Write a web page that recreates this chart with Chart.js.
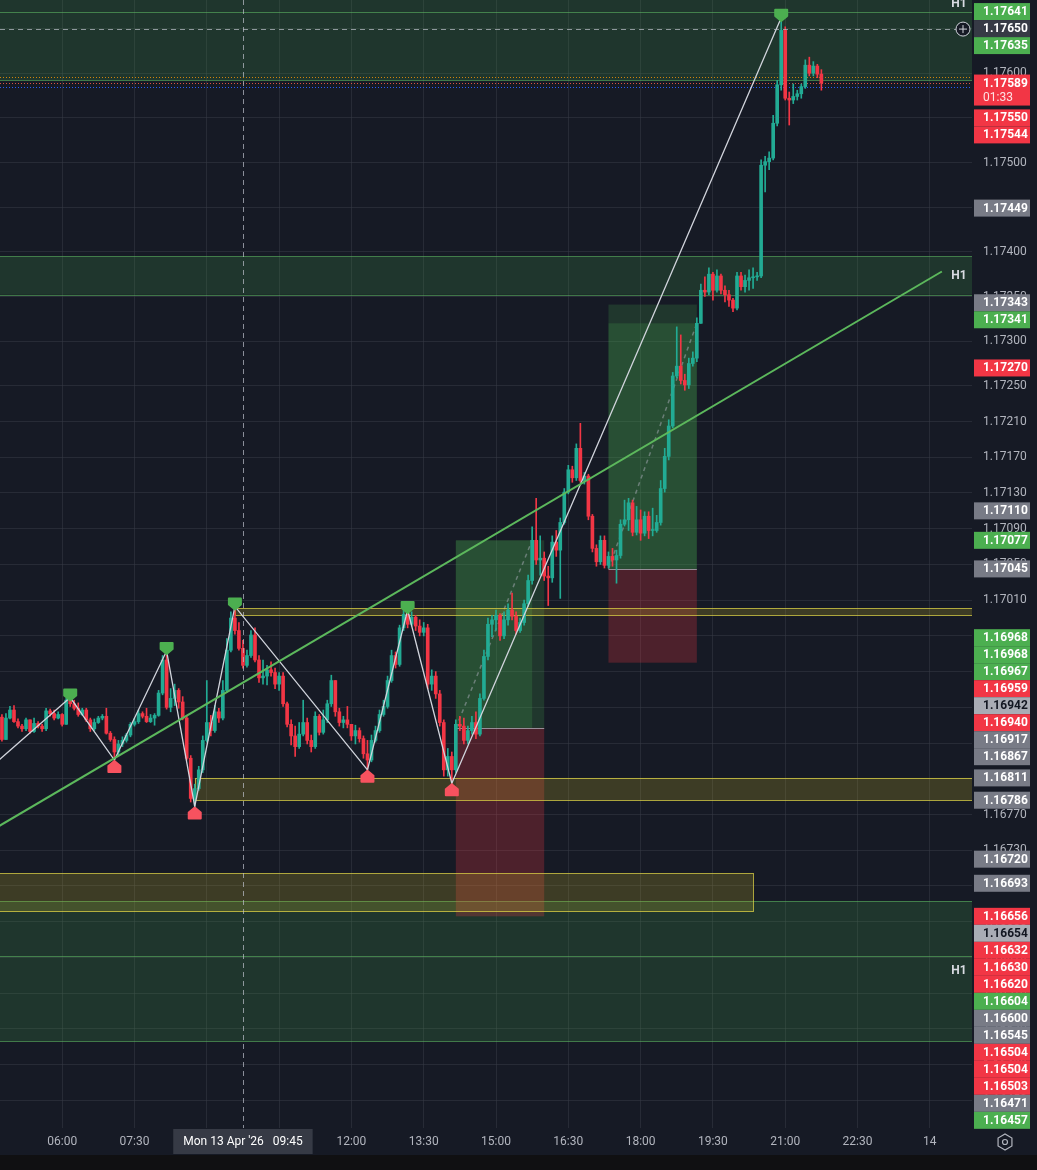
<!DOCTYPE html>
<html>
<head>
<meta charset="utf-8">
<script src="https://cdn.jsdelivr.net/npm/chart.js@4.4.1/dist/chart.umd.min.js"></script>
<style>
  html, body { margin: 0; padding: 0; background: #101012; }
  #wrap { width: 1037px; height: 1155px; }
</style>
</head>
<body>
<div id="wrap"><canvas id="chart" width="1037" height="1155"></canvas></div>
<script>
// EURUSD 5m, Mon 13 Apr '26, times are minutes after midnight
const FIRST_CANDLE = 285;   // 04:45
const CANDLE_MIN = 5;
const firstOpen = 1.16879;

const closes = [
  1.16854, 1.16878, 1.16887, 1.16874, 1.16869, 1.16866, 1.16876, 1.16863, 1.16872, 1.16869,
  1.16866, 1.16886, 1.16883, 1.16878, 1.16882, 1.16871, 1.16898, 1.16894, 1.16889, 1.16882,
  1.16887, 1.16876, 1.16866, 1.16873, 1.16878, 1.16880, 1.16861, 1.16854, 1.16840, 1.16849,
  1.16853, 1.16859, 1.16871, 1.16874, 1.16883, 1.16880, 1.16874, 1.16878, 1.16881, 1.16906,
  1.16943, 1.16890, 1.16900, 1.16909, 1.16896, 1.16878, 1.16833, 1.16788, 1.16799, 1.16820,
  1.16853, 1.16873, 1.16864, 1.16885, 1.16878, 1.16909, 1.16954, 1.16990, 1.16976, 1.16956,
  1.16937, 1.16948, 1.16971, 1.16943, 1.16923, 1.16925, 1.16932, 1.16929, 1.16916, 1.16925,
  1.16894, 1.16871, 1.16858, 1.16846, 1.16860, 1.16873, 1.16853, 1.16846, 1.16880, 1.16862,
  1.16876, 1.16894, 1.16920, 1.16885, 1.16873, 1.16876, 1.16871, 1.16858, 1.16864, 1.16855,
  1.16838, 1.16831, 1.16853, 1.16864, 1.16882, 1.16891, 1.16920, 1.16948, 1.16938, 1.16979,
  1.16994, 1.16983, 1.16991, 1.16981, 1.16974, 1.16979, 1.16916, 1.16925, 1.16905, 1.16873,
  1.16820, 1.16835, 1.16820, 1.16871, 1.16869, 1.16853, 1.16864, 1.16873, 1.16860, 1.16900,
  1.16947, 1.16983, 1.16988, 1.16993, 1.16970, 1.16988, 1.16999, 1.16992, 1.16976, 1.16985,
  1.17006, 1.17032, 1.17077, 1.17055, 1.17057, 1.17037, 1.17035, 1.17075, 1.17066, 1.17097,
  1.17131, 1.17156, 1.17147, 1.17180, 1.17144, 1.17149, 1.17104, 1.17068, 1.17053, 1.17077,
  1.17049, 1.17059, 1.17055, 1.17060, 1.17095, 1.17100, 1.17119, 1.17086, 1.17100, 1.17085,
  1.17104, 1.17088, 1.17088, 1.17097, 1.17135, 1.17171, 1.17205, 1.17261, 1.17272, 1.17256,
  1.17251, 1.17275, 1.17281, 1.17320, 1.17357, 1.17355, 1.17375, 1.17357, 1.17373, 1.17357,
  1.17352, 1.17346, 1.17337, 1.17373, 1.17361, 1.17368, 1.17371, 1.17372, 1.17373, 1.17497,
  1.17501, 1.17505, 1.17544, 1.17587, 1.17648, 1.17572, 1.17570, 1.17574, 1.17577, 1.17585,
  1.17609, 1.17600, 1.17608, 1.17599, 1.17589
];
const highs = [
  1.16882, 1.16883, 1.16891, 1.16892, 1.16877, 1.16871, 1.16878, 1.16876, 1.16878, 1.16874,
  1.16871, 1.16889, 1.16888, 1.16887, 1.16885, 1.16883, 1.16900, 1.16901, 1.16898, 1.16895,
  1.16889, 1.16889, 1.16878, 1.16877, 1.16880, 1.16882, 1.16889, 1.16863, 1.16857, 1.16853,
  1.16857, 1.16861, 1.16873, 1.16878, 1.16887, 1.16885, 1.16889, 1.16882, 1.16883, 1.16909,
  1.16948, 1.16953, 1.16911, 1.16916, 1.16911, 1.16902, 1.16880, 1.16836, 1.16804, 1.16824,
  1.16858, 1.16920, 1.16881, 1.16892, 1.16889, 1.16920, 1.16967, 1.16997, 1.17003, 1.16985,
  1.16965, 1.16954, 1.16976, 1.16979, 1.16948, 1.16943, 1.16937, 1.16941, 1.16934, 1.16929,
  1.16929, 1.16896, 1.16876, 1.16869, 1.16873, 1.16898, 1.16878, 1.16859, 1.16885, 1.16882,
  1.16887, 1.16898, 1.16926, 1.16920, 1.16889, 1.16880, 1.16891, 1.16869, 1.16870, 1.16867,
  1.16858, 1.16853, 1.16859, 1.16869, 1.16887, 1.16898, 1.16925, 1.16954, 1.16952, 1.16982,
  1.16999, 1.16999, 1.16997, 1.16993, 1.16988, 1.16985, 1.16983, 1.16932, 1.16930, 1.16909,
  1.16876, 1.16844, 1.16840, 1.16876, 1.16880, 1.16878, 1.16869, 1.16880, 1.16885, 1.16905,
  1.16954, 1.16990, 1.16993, 1.16999, 1.16995, 1.16997, 1.17006, 1.17018, 1.16997, 1.16990,
  1.17010, 1.17038, 1.17092, 1.17124, 1.17082, 1.17064, 1.17048, 1.17082, 1.17088, 1.17102,
  1.17135, 1.17161, 1.17160, 1.17185, 1.17208, 1.17153, 1.17151, 1.17106, 1.17072, 1.17082,
  1.17082, 1.17064, 1.17068, 1.17066, 1.17100, 1.17122, 1.17124, 1.17122, 1.17115, 1.17111,
  1.17109, 1.17109, 1.17113, 1.17105, 1.17144, 1.17180, 1.17212, 1.17265, 1.17316, 1.17307,
  1.17263, 1.17281, 1.17288, 1.17326, 1.17364, 1.17372, 1.17382, 1.17377, 1.17380, 1.17375,
  1.17362, 1.17357, 1.17348, 1.17377, 1.17377, 1.17374, 1.17380, 1.17382, 1.17377, 1.17503,
  1.17507, 1.17512, 1.17553, 1.17592, 1.17662, 1.17652, 1.17579, 1.17588, 1.17581, 1.17588,
  1.17615, 1.17618, 1.17613, 1.17610, 1.17604
];
const lows = [
  1.16852, 1.16854, 1.16877, 1.16873, 1.16867, 1.16863, 1.16864, 1.16861, 1.16862, 1.16867,
  1.16863, 1.16864, 1.16880, 1.16876, 1.16877, 1.16869, 1.16871, 1.16891, 1.16887, 1.16880,
  1.16881, 1.16874, 1.16863, 1.16864, 1.16872, 1.16876, 1.16860, 1.16852, 1.16831, 1.16836,
  1.16846, 1.16851, 1.16857, 1.16869, 1.16872, 1.16878, 1.16873, 1.16873, 1.16870, 1.16880,
  1.16904, 1.16888, 1.16885, 1.16892, 1.16889, 1.16876, 1.16831, 1.16784, 1.16779, 1.16797,
  1.16817, 1.16851, 1.16858, 1.16862, 1.16873, 1.16876, 1.16907, 1.16952, 1.16972, 1.16954,
  1.16934, 1.16935, 1.16946, 1.16941, 1.16918, 1.16916, 1.16915, 1.16925, 1.16911, 1.16909,
  1.16891, 1.16868, 1.16848, 1.16835, 1.16844, 1.16858, 1.16849, 1.16840, 1.16844, 1.16859,
  1.16860, 1.16873, 1.16891, 1.16880, 1.16869, 1.16867, 1.16867, 1.16853, 1.16849, 1.16851,
  1.16833, 1.16820, 1.16829, 1.16851, 1.16862, 1.16880, 1.16889, 1.16918, 1.16934, 1.16936,
  1.16976, 1.16979, 1.16981, 1.16976, 1.16970, 1.16970, 1.16911, 1.16909, 1.16900, 1.16869,
  1.16813, 1.16813, 1.16805, 1.16817, 1.16864, 1.16849, 1.16849, 1.16860, 1.16855, 1.16858,
  1.16898, 1.16943, 1.16969, 1.16976, 1.16965, 1.16967, 1.16982, 1.16988, 1.16972, 1.16974,
  1.16982, 1.17003, 1.17028, 1.17050, 1.17038, 1.17032, 1.17004, 1.17030, 1.17059, 1.17012,
  1.17095, 1.17129, 1.17142, 1.17144, 1.17142, 1.17140, 1.17100, 1.17064, 1.17048, 1.17050,
  1.17046, 1.17046, 1.17048, 1.17029, 1.17057, 1.17093, 1.17088, 1.17082, 1.17083, 1.17077,
  1.17082, 1.17079, 1.17082, 1.17086, 1.17094, 1.17131, 1.17167, 1.17203, 1.17259, 1.17252,
  1.17245, 1.17247, 1.17272, 1.17277, 1.17321, 1.17350, 1.17352, 1.17346, 1.17355, 1.17353,
  1.17344, 1.17339, 1.17333, 1.17335, 1.17357, 1.17355, 1.17357, 1.17359, 1.17368, 1.17371,
  1.17467, 1.17492, 1.17503, 1.17541, 1.17581, 1.17570, 1.17542, 1.17566, 1.17570, 1.17572,
  1.17583, 1.17597, 1.17597, 1.17595, 1.17581
];

// axis ticks
const priceTicks = [1.1765, 1.1760, 1.1755, 1.1750, 1.1745, 1.1740, 1.1735, 1.1730, 1.1725,
  1.1721, 1.1717, 1.1713, 1.1709, 1.1705, 1.1701, 1.1697, 1.1693, 1.1689, 1.1685, 1.1681,
  1.1677, 1.1673, 1.1669, 1.1665, 1.1661, 1.1657, 1.1653, 1.1649, 1.1645];
const timeTicks = [360, 450, 540, 630, 720, 810, 900, 990, 1080, 1170, 1260, 1350, 1440];
const timeTickLabels = ['06:00', '07:30', '09:00', '10:30', '12:00', '13:30', '15:00', '16:30',
  '18:00', '19:30', '21:00', '22:30', '14'];

// zigzag pivots
const zigzagTimes = [270, 370, 425, 490, 525, 575, 740, 790, 845, 1255];
const zigzagPrices = [1.16822, 1.16901, 1.16831, 1.16953, 1.16779, 1.17003, 1.16820, 1.16999, 1.16805, 1.17662];
const zigzagSides = ['low', 'high', 'low', 'high', 'low', 'high', 'low', 'high', 'low', 'high'];

// rising trend line
const trendTimes = [270, 1455];
const trendPrices = [1.16751, 1.17378];

// H1 zones (full width)
const zoneTops = [1.17763, 1.17395, 1.16673];
const zoneBottoms = [1.17592, 1.17352, 1.16516];
const zoneLines = [1.17669, 1.16612];

// yellow boxes
const boxFrom = [575, 525, 270];
const boxTo = [null, null, 1220];
const boxTops = [1.17001, 1.16811, 1.16704];
const boxBottoms = [1.16993, 1.16786, 1.16661];

// long positions
const tradeStart = [850, 1040];
const tradeEnd = [960, 1150];
const tradeEntry = [1.16867, 1.17045];
const tradeTarget = [1.17077, 1.17341];
const tradeStop = [1.16656, 1.16940];
const tradeExitTime = [945, 1150];
const tradeExitPrice = [1.17077, 1.17320];

// dotted price lines near the last price
const priceLines = [1.17596, 1.17589, 1.17585];
const priceLineKinds = ['ask', 'last', 'bid'];

// crosshair
const crossTime = 585;
const crossPrice = 1.17650;
const crossTimeLabel = "Mon 13 Apr '26";
const crossClock = '09:45';
const lastPriceTimer = '01:33';

// price axis labels
const badgePrices = [1.17641, 1.17635, 1.17589, 1.17550, 1.17544, 1.17449, 1.17343, 1.17341, 1.17270, 1.17110,
  1.17077, 1.17045, 1.16968, 1.16968, 1.16967, 1.16959, 1.16942, 1.16940, 1.16917, 1.16867,
  1.16811, 1.16786, 1.16720, 1.16693, 1.16656, 1.16654, 1.16632, 1.16630, 1.16620, 1.16604,
  1.16600, 1.16545, 1.16504, 1.16504, 1.16503, 1.16471, 1.16457];
const badgeKinds = ['g', 'g', 'last', 'r', 'r', 'n', 'n', 'g', 'r', 'n',
  'g', 'n', 'g', 'g', 'g', 'r', 'l', 'r', 'n', 'n',
  'n', 'n', 'n', 'n', 'r', 'l', 'r', 'r', 'r', 'g',
  'n', 'n', 'r', 'r', 'r', 'n', 'g'];

// ---- styles ----
const BG = '#161a25';
const UP = '#22ab94';
const DOWN = '#f23645';
const GRID = 'rgba(54,58,70,0.55)';
const TEXT = '#b2b5be';
const FONT = 'Roboto, "Liberation Sans", sans-serif';
const badgeColors = { g: '#4caf50', r: '#f23645', n: '#787b86', l: '#a9acb5', last: '#f23645' };

const candleTimes = closes.map((c, i) => FIRST_CANDLE + i * CANDLE_MIN);
const opens = closes.map((c, i) => i === 0 ? firstOpen : closes[i - 1]);
const candleColors = closes.map((c, i) => c >= opens[i] ? UP : DOWN);

const wickData = candleTimes.map((t, i) => ({
  x: t,
  y: [Math.min(lows[i], opens[i], closes[i]), Math.max(highs[i], opens[i], closes[i])]
}));
const bodyData = candleTimes.map((t, i) => ({ x: t, y: [opens[i], closes[i]] }));

function hline(ctx, a, py, color, dash) {
  ctx.save();
  ctx.strokeStyle = color;
  ctx.lineWidth = 1;
  if (dash) ctx.setLineDash(dash);
  ctx.beginPath();
  ctx.moveTo(a.left, Math.round(py) + 0.5);
  ctx.lineTo(a.right, Math.round(py) + 0.5);
  ctx.stroke();
  ctx.restore();
}

function marker(ctx, cx, cy, up, color) {
  ctx.save();
  ctx.fillStyle = color;
  ctx.strokeStyle = color;
  ctx.lineWidth = 2;
  ctx.lineJoin = 'round';
  ctx.beginPath();
  if (up) { // house shape under a low
    ctx.moveTo(cx, cy - 6);
    ctx.lineTo(cx + 6, cy - 1);
    ctx.lineTo(cx + 6, cy + 5);
    ctx.lineTo(cx - 6, cy + 5);
    ctx.lineTo(cx - 6, cy - 1);
  } else { // shield shape over a high
    ctx.moveTo(cx - 6, cy - 5);
    ctx.lineTo(cx + 6, cy - 5);
    ctx.lineTo(cx + 6, cy + 1);
    ctx.lineTo(cx, cy + 6);
    ctx.lineTo(cx - 6, cy + 1);
  }
  ctx.closePath();
  ctx.fill();
  ctx.stroke();
  ctx.restore();
}

const drawings = {
  id: 'drawings',
  beforeDraw(chart) {
    const { ctx, width, height } = chart;
    ctx.save();
    ctx.fillStyle = BG;
    ctx.fillRect(0, 0, width, height);
    ctx.restore();
  },
  beforeDatasetsDraw(chart) {
    const { ctx, chartArea: a, scales: { x, y } } = chart;
    ctx.save();
    ctx.beginPath();
    ctx.rect(a.left, a.top, a.right - a.left, a.bottom - a.top);
    ctx.clip();

    // H1 zones
    zoneTops.forEach((top, i) => {
      const y1 = y.getPixelForValue(top), y2 = y.getPixelForValue(zoneBottoms[i]);
      ctx.fillStyle = 'rgba(76,175,80,0.19)';
      ctx.fillRect(a.left, y1, a.right - a.left, y2 - y1);
      hline(ctx, a, y1, 'rgba(92,180,96,0.6)');
      hline(ctx, a, y2, 'rgba(92,180,96,0.6)');
    });
    zoneLines.forEach(p => hline(ctx, a, y.getPixelForValue(p), 'rgba(92,180,96,0.6)'));

    // long position tools
    tradeStart.forEach((t0, i) => {
      const xa = x.getPixelForValue(t0), xb = x.getPixelForValue(tradeEnd[i]);
      const ye = y.getPixelForValue(tradeEntry[i]);
      const yt = y.getPixelForValue(tradeTarget[i]);
      const ys = y.getPixelForValue(tradeStop[i]);
      const xc = x.getPixelForValue(tradeExitTime[i]);
      const yc = y.getPixelForValue(tradeExitPrice[i]);
      ctx.fillStyle = 'rgba(76,175,80,0.2)';
      ctx.fillRect(xa, yt, xb - xa, ye - yt);
      ctx.fillStyle = 'rgba(76,175,80,0.2)';
      ctx.fillRect(xa, yc, xc - xa, ye - yc);
      ctx.fillStyle = 'rgba(242,54,69,0.25)';
      ctx.fillRect(xa, ye, xb - xa, ys - ye);
      ctx.strokeStyle = 'rgba(170,170,180,0.8)';
      ctx.lineWidth = 1;
      ctx.beginPath();
      ctx.moveTo(xa, Math.round(ye) + 0.5);
      ctx.lineTo(xb, Math.round(ye) + 0.5);
      ctx.stroke();
      ctx.save();
      ctx.setLineDash([4, 4]);
      ctx.strokeStyle = 'rgba(160,165,175,0.55)';
      ctx.lineWidth = 1.5;
      ctx.beginPath();
      ctx.moveTo(xa, ye);
      ctx.lineTo(xc, yc);
      ctx.stroke();
      ctx.restore();
    });

    // yellow boxes
    boxTops.forEach((top, i) => {
      const xa = x.getPixelForValue(boxFrom[i]);
      const xb = boxTo[i] === null ? a.right : x.getPixelForValue(boxTo[i]);
      const y1 = y.getPixelForValue(top), y2 = y.getPixelForValue(boxBottoms[i]);
      ctx.fillStyle = 'rgba(200,180,40,0.22)';
      ctx.fillRect(xa, y1, xb - xa, y2 - y1);
      ctx.strokeStyle = 'rgba(220,210,70,0.75)';
      ctx.lineWidth = 1;
      ctx.strokeRect(Math.round(xa) + 0.5, Math.round(y1) + 0.5, Math.round(xb - xa), Math.round(y2 - y1));
    });

    // dotted last-price lines
    const lineColors = { ask: 'rgba(255,152,0,0.8)', last: 'rgba(242,90,69,0.9)', bid: 'rgba(41,98,255,0.95)' };
    priceLines.forEach((p, i) => hline(ctx, a, y.getPixelForValue(p), lineColors[priceLineKinds[i]], [1, 2]));
    ctx.restore();
  },
  afterDatasetsDraw(chart) {
    const { ctx, chartArea: a, scales: { x, y } } = chart;
    ctx.save();
    ctx.beginPath();
    ctx.rect(a.left, a.top, a.right - a.left, a.bottom - a.top);
    ctx.clip();

    // pivot markers
    zigzagTimes.forEach((t, i) => {
      if (i === 0) return;
      const px = x.getPixelForValue(t), py = y.getPixelForValue(zigzagPrices[i]);
      if (zigzagSides[i] === 'high') marker(ctx, px, py - 3, false, '#4caf50');
      else marker(ctx, px, py + 7, true, '#f7525f');
    });

    // crosshair
    const cx = Math.round(x.getPixelForValue(crossTime)) + 0.5;
    const cy = y.getPixelForValue(crossPrice);
    ctx.strokeStyle = 'rgba(190,194,204,0.7)';
    ctx.lineWidth = 1;
    ctx.setLineDash([5, 4]);
    ctx.beginPath();
    ctx.moveTo(cx, a.top);
    ctx.lineTo(cx, a.bottom);
    ctx.moveTo(a.left, Math.round(cy) + 0.5);
    ctx.lineTo(a.right, Math.round(cy) + 0.5);
    ctx.stroke();
    ctx.setLineDash([]);

    // zone labels
    ctx.fillStyle = '#d8dbe2';
    ctx.font = 'bold 12px ' + FONT;
    ctx.textAlign = 'center';
    ctx.textBaseline = 'middle';
    zoneTops.forEach((top, i) => {
      const mid = (y.getPixelForValue(top) + y.getPixelForValue(zoneBottoms[i])) / 2;
      ctx.fillText('H1', a.right - 13, mid);
    });

    // plus button on the crosshair
    ctx.fillStyle = BG;
    ctx.strokeStyle = '#d1d4dc';
    ctx.lineWidth = 1;
    ctx.beginPath();
    ctx.arc(a.right - 9, cy + 0.5, 7, 0, Math.PI * 2);
    ctx.fill();
    ctx.stroke();
    ctx.beginPath();
    ctx.moveTo(a.right - 13, cy + 0.5);
    ctx.lineTo(a.right - 5, cy + 0.5);
    ctx.moveTo(a.right - 9, cy - 3.5);
    ctx.lineTo(a.right - 9, cy + 4.5);
    ctx.stroke();
    ctx.restore();
  },
  afterDraw(chart) {
    const { ctx, chartArea: a, scales: { x, y } } = chart;
    const H = 17;
    const bx = a.right + 2, bw = 56;
    const fixedY = y.getPixelForValue(crossPrice);
    const fTop = fixedY - H / 2, fBot = fixedY + H / 2;
    ctx.save();
    ctx.font = 'bold 12px ' + FONT;
    ctx.textBaseline = 'middle';
    ctx.textAlign = 'left';

    // stack labels top-down so none overlap
    let prevBottom = -Infinity;
    badgePrices.forEach((p, i) => {
      const kind = badgeKinds[i];
      const h = kind === 'last' ? 31 : H;
      let top = Math.max(y.getPixelForValue(p) - H / 2, prevBottom);
      if (top < fBot && top + h > fTop) {
        const above = fTop - h;
        top = (above >= 0 && above >= prevBottom) ? above : fBot;
      }
      prevBottom = top + h;
      ctx.fillStyle = badgeColors[kind];
      ctx.fillRect(bx, top, bw, h);
      ctx.fillStyle = kind === 'l' ? '#131722' : '#ffffff';
      ctx.fillText(p.toFixed(5), a.right + 11, top + H / 2 + 0.5);
      if (kind === 'last') {
        ctx.fillStyle = 'rgba(255,255,255,0.85)';
        ctx.font = '12px ' + FONT;
        ctx.fillText(lastPriceTimer, a.right + 11, top + H / 2 + 15);
        ctx.font = 'bold 12px ' + FONT;
      }
    });

    // crosshair price label
    ctx.fillStyle = '#363a45';
    ctx.fillRect(bx, fTop, bw, H);
    ctx.fillStyle = '#ffffff';
    ctx.fillText(crossPrice.toFixed(5), a.right + 11, fixedY + 0.5);

    // crosshair time label
    const cx = x.getPixelForValue(crossTime);
    ctx.font = '12px ' + FONT;
    const label = crossTimeLabel + '   ' + crossClock;
    const tw = ctx.measureText(label).width + 20;
    ctx.fillStyle = '#363a45';
    ctx.fillRect(cx - tw / 2, a.bottom + 1, tw, 25);
    ctx.fillStyle = '#ffffff';
    ctx.textAlign = 'center';
    ctx.fillText(label, cx, a.bottom + 14);

    // settings button
    const sx = a.right + 33, sy = a.bottom + 14;
    ctx.strokeStyle = '#b2b5be';
    ctx.lineWidth = 1.2;
    ctx.beginPath();
    for (let k = 0; k < 6; k++) {
      const ang = Math.PI / 2 + k * Math.PI / 3;
      const px = sx + 8 * Math.cos(ang), py = sy + 8 * Math.sin(ang);
      if (k === 0) ctx.moveTo(px, py); else ctx.lineTo(px, py);
    }
    ctx.closePath();
    ctx.stroke();
    ctx.beginPath();
    ctx.arc(sx, sy, 2.5, 0, Math.PI * 2);
    ctx.stroke();
    ctx.restore();
  }
};

new Chart(document.getElementById('chart').getContext('2d'), {
  type: 'bar',
  data: {
    datasets: [
      {
        type: 'line',
        data: zigzagTimes.map((t, i) => ({ x: t, y: zigzagPrices[i] })),
        borderColor: '#d1d4dc',
        borderWidth: 1.3,
        pointRadius: 0,
        tension: 0,
        order: 1
      },
      {
        type: 'line',
        data: trendTimes.map((t, i) => ({ x: t, y: trendPrices[i] })),
        borderColor: '#5cb85c',
        borderWidth: 2,
        pointRadius: 0,
        tension: 0,
        order: 0
      },
      {
        data: wickData,
        backgroundColor: candleColors,
        barThickness: 1,
        grouped: false,
        borderWidth: 0,
        order: 3
      },
      {
        data: bodyData,
        backgroundColor: candleColors,
        barThickness: 3,
        minBarLength: 1,
        grouped: false,
        borderWidth: 0,
        order: 2
      }
    ]
  },
  options: {
    responsive: false,
    animation: false,
    layout: { padding: 0, autoPadding: false },
    plugins: { legend: { display: false }, tooltip: { enabled: false } },
    scales: {
      x: {
        type: 'linear',
        min: 282.6,
        max: 1492.5,
        offset: false,
        grid: { color: GRID, drawTicks: false, offset: false },
        border: { display: false },
        ticks: {
          color: TEXT,
          font: { size: 12, family: FONT },
          padding: 7,
          maxRotation: 0,
          autoSkip: false,
          callback: (v, i) => timeTickLabels[i]
        },
        afterBuildTicks: s => { s.ticks = timeTicks.map(v => ({ value: v })); },
        afterFit: s => { s.height = 27; s.paddingLeft = 0; s.paddingRight = 0; }
      },
      y: {
        type: 'linear',
        position: 'right',
        min: 1.16419,
        max: 1.17682,
        grid: { color: GRID, drawTicks: false },
        border: { display: false },
        ticks: {
          color: TEXT,
          font: { size: 12, family: FONT },
          padding: 11,
          autoSkip: false,
          callback: v => v.toFixed(5)
        },
        afterBuildTicks: s => { s.ticks = priceTicks.map(v => ({ value: v })); },
        afterFit: s => { s.width = 65; s.paddingTop = 0; s.paddingBottom = 0; }
      }
    }
  },
  plugins: [drawings]
});
</script>
</body>
</html>
